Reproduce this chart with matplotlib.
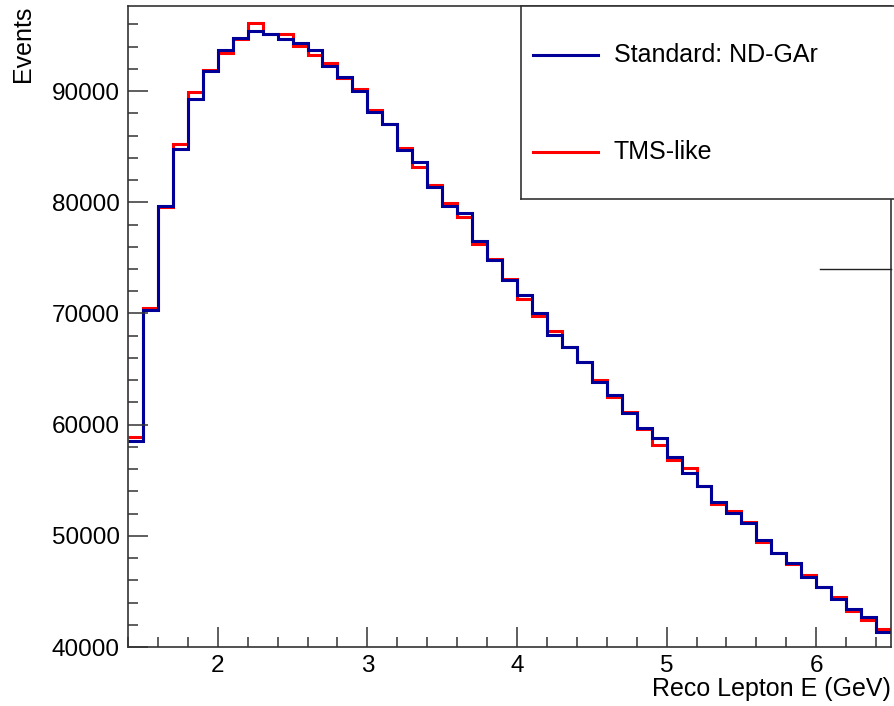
import numpy as np
import matplotlib
matplotlib.use('Agg')
import matplotlib.pyplot as plt
from matplotlib.ticker import MultipleLocator
from matplotlib.lines import Line2D

plt.rcParams['font.family'] = ['Liberation Sans', 'DejaVu Sans']

# binning: 0.1 GeV bins from 1.4 to 6.5 GeV
bin_edges = np.linspace(1.4, 6.5, 52)

# Standard: ND-GAr
nd_gar = [58560, 70270, 79640, 84840, 89280, 91800, 93690, 94750, 95400, 95130,
          94680, 94370, 93690, 92250, 91250, 90030, 88080, 87090, 84690, 83630,
          81380, 79650, 79070, 76510, 74780, 73040, 71650, 70060, 68080, 66960,
          65610, 63840, 62700, 61020, 59700, 58770, 57050, 55610, 54500, 53000,
          52020, 51110, 49640, 48500, 47600, 46310, 45400, 44350, 43400, 42730,
          41380]

# TMS-like
tms_like = [58920, 70480, 79620, 85220, 89880, 91890, 93450, 94720, 96100, 95100,
            95110, 94080, 93240, 92500, 91150, 90180, 88260, 87080, 84890, 83180,
            81530, 79900, 78680, 76280, 74930, 73130, 71290, 69730, 68470, 66950,
            65600, 63980, 62520, 61140, 59610, 58170, 56850, 56060, 54500, 52860,
            52250, 51200, 49490, 48490, 47450, 46460, 45390, 44510, 43240, 42410,
            41590]

blue = '#000099'
red = '#ff0000'

fig = plt.figure(figsize=(8.94, 7.06), dpi=100)
ax = fig.add_axes([128 / 894, 1 - 647 / 706, 763 / 894, 641 / 706])

ax.stairs(tms_like, bin_edges, baseline=None, color=red, lw=2.2)
ax.stairs(nd_gar, bin_edges, baseline=None, color=blue, lw=2.2)

ax.set_xlim(1.4, 6.5)
ax.set_ylim(40000, 97660)

ax.xaxis.set_major_locator(MultipleLocator(1))
ax.xaxis.set_minor_locator(MultipleLocator(0.2))
ax.yaxis.set_major_locator(MultipleLocator(10000))
ax.yaxis.set_minor_locator(MultipleLocator(2000))
ax.tick_params(which='both', direction='in', top=False, right=False,
               labelsize=17.5, color='#333333', width=1.1)
ax.tick_params(which='major', length=14.5, pad=6)
ax.tick_params(which='minor', length=7)
ax.tick_params(axis='x', which='major', pad=6)
for s in ax.spines.values():
    s.set_linewidth(1.2)
    s.set_color('#333333')

ax.set_xlabel('Reco Lepton E (GeV)', fontsize=18, loc='right', labelpad=0)
ax.set_ylabel('Events', fontsize=18, loc='top', labelpad=12)

# legend box
lax = fig.add_axes([520.7 / 894, 1 - 199 / 706, 380 / 894, 193 / 706])
lax.set_xlim(0, 380)
lax.set_ylim(193, 0)
lax.set_xticks([])
lax.set_yticks([])
for s in lax.spines.values():
    s.set_linewidth(1.2)
    s.set_color('#333333')
lax.plot([12, 77], [49, 49], color=blue, lw=2.2)
lax.plot([12, 77], [146, 146], color=red, lw=2.2)
lax.text(93, 49, 'Standard: ND-GAr', fontsize=18, va='center', ha='left')
lax.text(93, 146, 'TMS-like', fontsize=18, va='center', ha='left')

# stray stats-box edge on the right
fig.add_artist(Line2D([820 / 894, 891 / 894], [1 - 269 / 706, 1 - 269 / 706],
                      color='#222222', lw=1.0))

fig.savefig('out.png', dpi=100)
